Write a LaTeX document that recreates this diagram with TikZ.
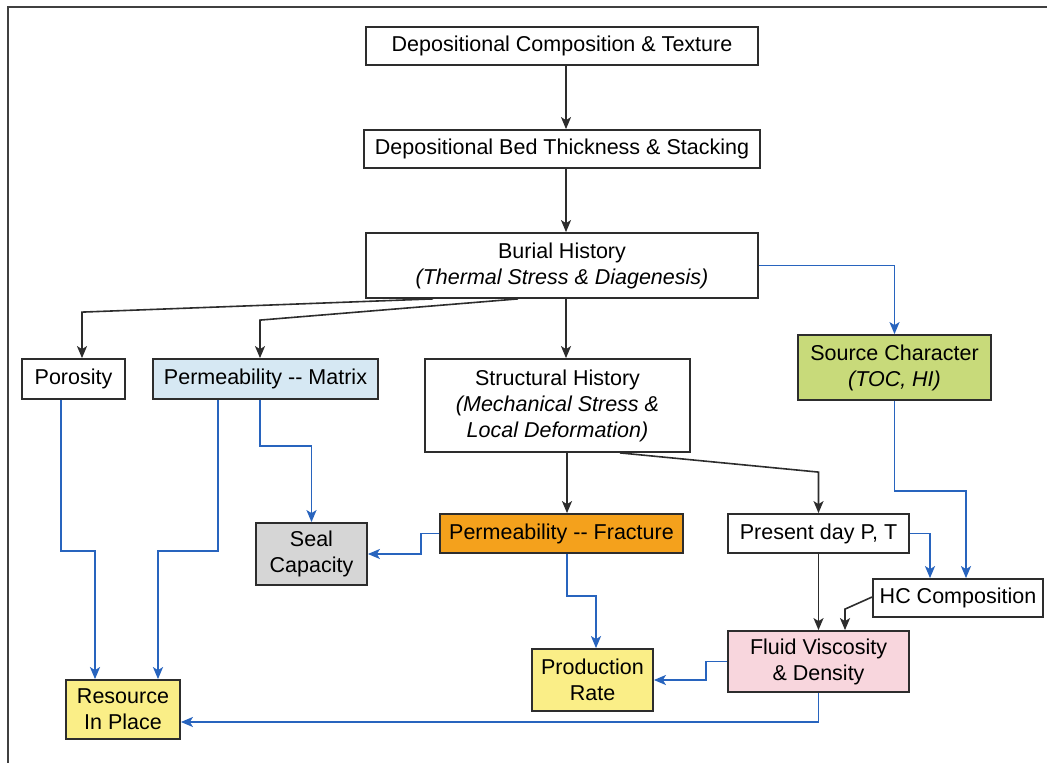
\documentclass[tikz,border=0pt]{standalone}
\usepackage{fontspec}
\setmainfont{Liberation Sans}
\usetikzlibrary{arrows.meta,calc}
\definecolor{lnblue}{RGB}{40,100,190}
\definecolor{lngray}{RGB}{45,45,45}
\definecolor{fillpm}{RGB}{214,232,243}
\definecolor{fillsrc}{RGB}{200,218,122}
\definecolor{fillseal}{RGB}{214,214,214}
\definecolor{fillpf}{RGB}{244,161,28}
\definecolor{fillyel}{RGB}{250,238,135}
\definecolor{fillpink}{RGB}{248,214,221}
\begin{document}
\begin{tikzpicture}[x=1pt,y=-1pt,
  box/.style={draw=lngray,line width=1.8pt,inner sep=0pt,align=center,
    font=\fontsize{21.5}{26}\selectfont},
  blk/.style={draw=lngray,line width=1.6pt,-{Stealth[length=12pt,width=10pt,inset=3pt]}},
  blu/.style={draw=lnblue,line width=1.8pt,-{Stealth[length=12pt,width=10pt,inset=3pt]}}]
\useasboundingbox (0,0) rectangle (1047,763);
\draw[line width=2pt,draw=black!75] (8,763) -- (8,7) -- (1047,7);
% nodes
\node[box,minimum width=392pt,minimum height=38pt] (dct) at (562,46) {Depositional Composition \& Texture};
\node[box,minimum width=396pt,minimum height=38pt] (bed) at (562,149) {Depositional Bed Thickness \& Stacking};
\node[box,minimum width=392pt,minimum height=65pt] (burial) at (562,265.5) {Burial History\\\textit{(Thermal Stress \& Diagenesis)}};
\node[box,minimum width=103pt,minimum height=40pt] (por) at (73.5,379) {Porosity};
\node[box,fill=fillpm,minimum width=225pt,minimum height=40pt] (pm) at (265.5,379) {Permeability -{}- Matrix};
\node[box,minimum width=265pt,minimum height=93pt] (struct) at (557.5,405.5) {Structural History\\\textit{(Mechanical Stress \&}\\\textit{Local Deformation)}};
\node[box,fill=fillsrc,minimum width=193pt,minimum height=65pt] (src) at (894.5,367.5) {Source Character\\\textit{(TOC, HI)}};
\node[box,fill=fillseal,minimum width=111pt,minimum height=62pt] (seal) at (311.5,554) {Seal\\Capacity};
\node[box,fill=fillpf,minimum width=243pt,minimum height=39pt] (pf) at (561.5,533.5) {Permeability -{}- Fracture};
\node[box,minimum width=181pt,minimum height=39pt] (pdt) at (818.5,533.5) {Present day P, T};
\node[box,minimum width=170pt,minimum height=38pt] (hc) at (958,598) {HC Composition};
\node[box,fill=fillpink,minimum width=181pt,minimum height=61pt] (fvd) at (818.5,661.5) {Fluid Viscosity\\\& Density};
\node[box,fill=fillyel,minimum width=121pt,minimum height=62pt] (prod) at (592.5,680) {Production\\Rate};
\node[box,fill=fillyel,minimum width=114pt,minimum height=59pt] (rip) at (123,709.5) {Resource\\In Place};
% black connectors
\draw[blk] ([xshift=4pt]dct.south) -- ([xshift=4pt]bed.north);
\draw[blk] ([xshift=4pt]bed.south) -- ([xshift=4pt]burial.north);
\draw[blk] ([xshift=4pt]burial.south) -- ([xshift=8.5pt]struct.north);
\draw[blk] ([xshift=-129pt]burial.south) -- ($(por.north)+(8.5,-46)$) -- ([xshift=8.5pt]por.north);
\draw[blk] ([xshift=-44pt]burial.south) -- ($(pm.north)+(-5.5,-38)$) -- ([xshift=-5.5pt]pm.north);
\draw[blk] ([xshift=9.5pt]struct.south) -- ([xshift=5.5pt]pf.north);
\draw[blk] ([xshift=62.5pt]struct.south) -- ($(pdt.north)+(0,-41)$) -- (pdt.north);
\draw[blk] (pdt.south) -- (fvd.north);
\draw[blk] ([yshift=1pt]hc.west) -- ($(fvd.north)+(26.5,-21)$) -- ([xshift=26.5pt]fvd.north);
% blue connectors
\draw[blu] (burial.east) -| (src.north);
\draw[blu] ([xshift=-5.5pt]pm.south) |- ($(seal.north)+(0,-76)$) -- (seal.north);
\draw[blu] ([xshift=-12.5pt]por.south) |- ($(rip.north)+(-28,-128)$) -- ([xshift=-28pt]rip.north);
\draw[blu] ([xshift=-47.5pt]pm.south) |- ($(rip.north)+(35,-128)$) -- ([xshift=35pt]rip.north);
\draw[blu] (pf.west) -- ++(-18,0) |- (seal.east);
\draw[blu] ([xshift=5.5pt]pf.south) |- ($(prod.north)+(3.5,-52)$) -- ([xshift=3.5pt]prod.north);
\draw[blu] (pdt.east) -| ([xshift=-28pt]hc.north);
\draw[blu] (src.south) |- ($(hc.north)+(8,-87)$) -- ([xshift=8pt]hc.north);
\draw[blu] (fvd.west) -- ++(-21,0) |- (prod.east);
\draw[blu] (fvd.south) |- ([yshift=-12.5pt]rip.east);
\end{tikzpicture}
\end{document}
